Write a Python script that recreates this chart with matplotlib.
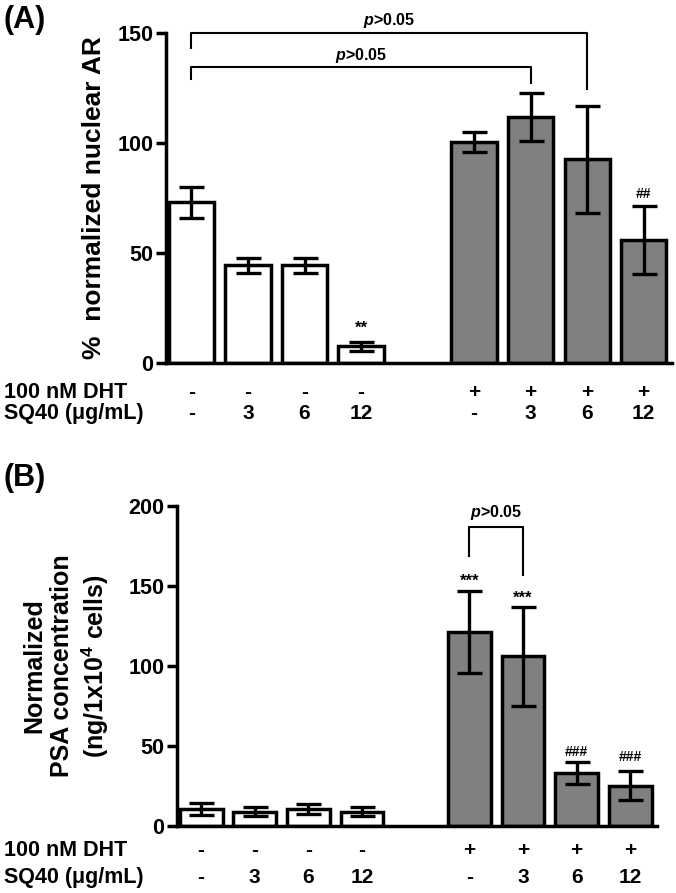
import numpy as np
import matplotlib
matplotlib.use("Agg")
import matplotlib.pyplot as plt
from matplotlib.transforms import blended_transform_factory

plt.rcParams['font.family'] = ['Liberation Sans', 'DejaVu Sans']
plt.rcParams['font.weight'] = 'bold'
plt.rcParams['mathtext.fontset'] = 'custom'
plt.rcParams['mathtext.rm'] = 'Liberation Sans:bold'
plt.rcParams['mathtext.it'] = 'Liberation Sans:italic:bold'
plt.rcParams['mathtext.bf'] = 'Liberation Sans:bold'

# bar slots (slot 4 is the empty gap between the two groups)
positions = [0, 1, 2, 3, 5, 6, 7, 8]
bar_colors = ['white'] * 4 + ['#808080'] * 4
dht_row = ['-', '-', '-', '-', '+', '+', '+', '+']
sq40_row = ['-', '3', '6', '12', '-', '3', '6', '12']

# panel A: % normalized nuclear AR
ar_mean = [73, 44.4, 44.4, 7.6, 100.3, 111.8, 92.7, 56]
ar_err = [7.2, 3.3, 3.3, 2.1, 4.6, 10.8, 24.3, 15.5]

# panel B: normalized PSA concentration
psa_mean = [10.6, 8.9, 10.6, 8.9, 121.2, 106, 33.2, 25.3]
psa_err = [3.6, 2.7, 3.0, 2.9, 25.8, 31, 6.9, 9.2]

fig = plt.figure(figsize=(6.76, 8.93), dpi=100)


def draw_bars(ax, means, errs, ymax, yticks):
    ax.bar(positions, means, width=0.8, color=bar_colors, edgecolor='black',
           linewidth=2.5, zorder=2)
    ax.errorbar(positions, means, yerr=errs, fmt='none', ecolor='black',
                elinewidth=2.4, capsize=9, capthick=2.4, zorder=3)
    ax.set_xlim(-0.45, 8.5)
    ax.set_ylim(0, ymax)
    ax.set_yticks(yticks)
    ax.set_xticks([])
    for s in ['top', 'right']:
        ax.spines[s].set_visible(False)
    for s in ['left', 'bottom']:
        ax.spines[s].set_linewidth(2.5)
    ax.tick_params(axis='y', width=2.5, length=7, labelsize=15.5, pad=2)
    for lab in ax.get_yticklabels():
        lab.set_fontweight('bold')


def row_labels(ax, y1, y2):
    # y1, y2 in figure fraction
    fig.text(0.006, y1, '100 nM DHT', ha='left', va='center', fontsize=15.5,
             fontweight='bold')
    fig.text(0.006, y2, 'SQ40 (\u03bcg/mL)', ha='left', va='center',
             fontsize=15.5, fontweight='bold')
    tr = blended_transform_factory(ax.transData, fig.transFigure)
    for p, d, s in zip(positions, dht_row, sq40_row):
        ax.text(p, y1, d, transform=tr, ha='center', va='center',
                fontsize=15, fontweight='bold')
        ax.text(p, y2, s, transform=tr, ha='center', va='center',
                fontsize=15, fontweight='bold')


def bracket(ax, x1, x2, ytop, yl, yr, label, ylab):
    ax.plot([x1, x1, x2, x2], [yl, ytop, ytop, yr], color='black', lw=1.5,
            clip_on=False, zorder=4)
    ax.text((x1 + x2) / 2, ylab, label, ha='center', va='center',
            fontsize=11.5, clip_on=False)


# ---- panel A ----
axA = fig.add_axes([0.2456, 0.5935, 0.7484, 0.3695])
draw_bars(axA, ar_mean, ar_err, 150, [0, 50, 100, 150])
axA.set_ylabel('%  normalized nuclear AR', fontsize=19, fontweight='bold',
               labelpad=8)
bracket(axA, 0, 7, 150, 143, 124.5, '$p$>0.05', 155.5)
bracket(axA, 0, 6, 134.4, 129, 127.3, '$p$>0.05', 140)
axA.text(3, 16, '**', ha='center', va='center', fontsize=12)
axA.text(8, 77, '##', ha='center', va='center', fontsize=10)
row_labels(axA, 0.560, 0.5375)
fig.text(0.005, 0.978, '(A)', fontsize=22, fontweight='bold', ha='left',
         va='center')

# ---- panel B ----
axB = fig.add_axes([0.2618, 0.075, 0.7102, 0.3585])
draw_bars(axB, psa_mean, psa_err, 200, [0, 50, 100, 150, 200])
axB.text(-0.23, 0.5, 'Normalized\nPSA concentration\n(ng/1x10$^4$ cells)',
         transform=axB.transAxes, rotation=90, ha='center', va='center',
         fontsize=18, fontweight='bold', linespacing=1.2)
bracket(axB, 5, 6, 186.7, 169, 156.7, '$p$>0.05', 196)
axB.text(5, 153, '***', ha='center', va='center', fontsize=12)
axB.text(6, 142, '***', ha='center', va='center', fontsize=12)
axB.text(7, 46, '###', ha='center', va='center', fontsize=10)
axB.text(8, 43, '###', ha='center', va='center', fontsize=10)
row_labels(axB, 0.048, 0.0175)
fig.text(0.005, 0.465, '(B)', fontsize=22, fontweight='bold', ha='left',
         va='center')

fig.savefig('out.png', dpi=100)
